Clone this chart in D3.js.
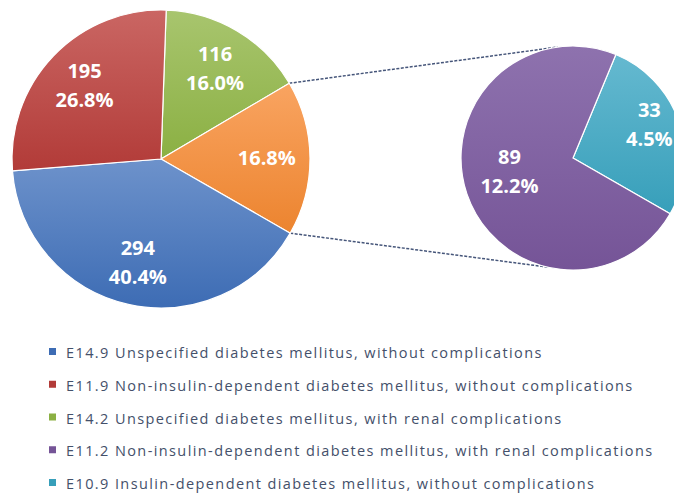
<!DOCTYPE html>
<html>
<head>
<meta charset="utf-8">
<script src="https://cdn.jsdelivr.net/npm/d3@7"></script>
<style>
  body { margin: 0; background: #fff; }
  svg { display: block; }
</style>
</head>
<body>
<div id="chart"></div>
<script>
// main pie: clockwise from top
const mainCategories = ['E14.2', 'Other', 'E14.9', 'E11.9'];
const mainValues = [116, 122, 294, 195];
const mainShowValue = [true, false, true, true];
// secondary pie (breakdown of "Other")
const subCategories = ['E10.9', 'E11.2'];
const subValues = [33, 89];

const legendLabels = [
  'E14.9 Unspecified diabetes mellitus, without complications',
  'E11.9 Non-insulin-dependent diabetes mellitus, without complications',
  'E14.2 Unspecified diabetes mellitus, with renal complications',
  'E11.2 Non-insulin-dependent diabetes mellitus, with renal complications',
  'E10.9 Insulin-dependent diabetes mellitus, without complications'
];
const legendKeys = ['E14.9', 'E11.9', 'E14.2', 'E11.2', 'E10.9'];

const colors = {
  'E14.9': ['#6d92cb', '#3d6cb4'],
  'E11.9': ['#ca6663', '#b23b38'],
  'E14.2': ['#a8c56e', '#8bb043'],
  'Other': ['#f9a461', '#ec842f'],
  'E11.2': ['#8e72ae', '#755497'],
  'E10.9': ['#65b9d0', '#379fba']
};

const total = d3.sum(mainValues);
const pct = v => (v / total * 100).toFixed(1) + '%';

const W = 674, H = 496;
const svg = d3.select('#chart').append('svg')
    .attr('width', W)
    .attr('height', H);

const defs = svg.append('defs');
Object.entries(colors).forEach(([k, c]) => {
  const g = defs.append('linearGradient')
      .attr('id', 'grad-' + k.replace('.', '_'))
      .attr('x1', 0).attr('y1', 0).attr('x2', 0).attr('y2', 1);
  g.append('stop').attr('offset', '0%').attr('stop-color', c[0]);
  g.append('stop').attr('offset', '100%').attr('stop-color', c[1]);
});
const fillOf = k => `url(#grad-${k.replace('.', '_')})`;

const rad = deg => deg * Math.PI / 180;

// ---- main pie
const mainC = [161, 159], mainR = 149;
const mainRot = rad(2);
const mainPie = d3.pie().sort(null).value(d => d)
    .startAngle(mainRot).endAngle(mainRot + 2 * Math.PI);
const mainArcs = mainPie(mainValues);
const mainArc = d3.arc().innerRadius(0).outerRadius(mainR);
const mainLabelArc = d3.arc().innerRadius(mainR * 0.71).outerRadius(mainR * 0.71);

// ---- secondary pie
const subC = [573, 158], subR = 112;
const subStart = rad(22.5);
const subPie = d3.pie().sort(null).value(d => d)
    .startAngle(subStart).endAngle(subStart + 2 * Math.PI);
const subArcs = subPie(subValues);
const subArc = d3.arc().innerRadius(0).outerRadius(subR);
const subLabelR = [0.72, 0.6];

// connector lines from the "Other" slice edges to the secondary pie
const other = mainArcs[1];
const onCircle = (c, r, a) => [c[0] + r * Math.sin(a), c[1] - r * Math.cos(a)];
const links = [
  [onCircle(mainC, mainR, other.startAngle), onCircle(subC, subR, rad(-8))],
  [onCircle(mainC, mainR, other.endAngle), onCircle(subC, subR, rad(193))]
];
svg.append('g').selectAll('line')
  .data(links)
  .join('line')
    .attr('x1', d => d[0][0]).attr('y1', d => d[0][1])
    .attr('x2', d => d[1][0]).attr('y2', d => d[1][1])
    .attr('stroke', '#46567a')
    .attr('stroke-width', 1.5)
    .attr('stroke-dasharray', '3,1.5');

const gMain = svg.append('g').attr('transform', `translate(${mainC})`);
gMain.selectAll('path')
  .data(mainArcs)
  .join('path')
    .attr('d', mainArc)
    .attr('fill', (d, i) => fillOf(mainCategories[i]))
    .attr('stroke', '#fff')
    .attr('stroke-width', 1.2);

const gSub = svg.append('g').attr('transform', `translate(${subC})`);
gSub.selectAll('path')
  .data(subArcs)
  .join('path')
    .attr('d', subArc)
    .attr('fill', (d, i) => fillOf(subCategories[i]))
    .attr('stroke', '#fff')
    .attr('stroke-width', 1.2);

function addLabel(g, pos, lines) {
  const t = g.append('text')
      .attr('text-anchor', 'middle')
      .attr('fill', '#fff')
      .style('font-family', '"Open Sans", sans-serif')
      .style('font-weight', 'bold')
      .style('font-size', '20px');
  const lh = 29;
  lines.forEach((s, j) => {
    t.append('tspan')
      .attr('x', pos[0])
      .attr('y', pos[1] + (j - (lines.length - 1) / 2) * lh + 7)
      .text(s);
  });
}

mainArcs.forEach((d, i) => {
  const lines = mainShowValue[i] ? [String(mainValues[i]), pct(mainValues[i])] : [pct(mainValues[i])];
  addLabel(gMain, mainLabelArc.centroid(d), lines);
});
subArcs.forEach((d, i) => {
  const r = subR * subLabelR[i];
  const a = (d.startAngle + d.endAngle) / 2;
  addLabel(gSub, [r * Math.sin(a), -r * Math.cos(a) - 8], [String(subValues[i]), pct(subValues[i])]);
});

// ---- legend
const legendY = d3.scalePoint().domain(legendKeys).range([352, 483]);
const legend = svg.append('g');
const rows = legend.selectAll('g')
  .data(legendKeys)
  .join('g')
    .attr('transform', d => `translate(0,${legendY(d)})`);
rows.append('rect')
    .attr('x', 49).attr('y', -4)
    .attr('width', 7).attr('height', 7)
    .attr('fill', d => colors[d][1]);
rows.append('text')
    .attr('x', 66)
    .attr('y', 6)
    .attr('fill', '#44506a')
    .style('font-family', '"Open Sans", sans-serif')
    .style('font-size', '14.5px')
    .style('letter-spacing', '1.4px')
    .text((d, i) => legendLabels[i]);
</script>
</body>
</html>
